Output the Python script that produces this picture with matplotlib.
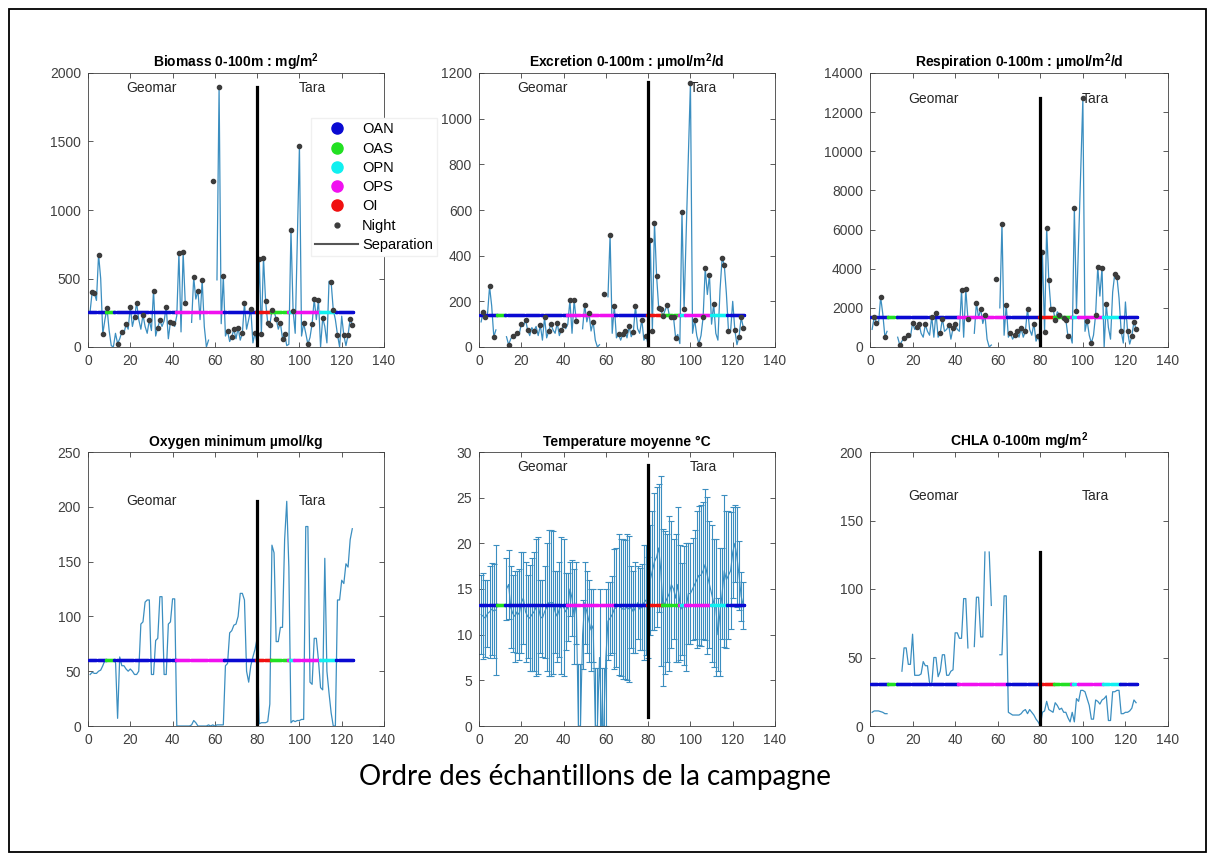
import numpy as np
import matplotlib
matplotlib.use("Agg")
import matplotlib.pyplot as plt
from matplotlib.lines import Line2D
from matplotlib.patches import Rectangle

nan = np.nan
samples = np.arange(1, 126)

biomass = [260, 405, 395, 340, 675, 500, 95, 200, 285, 120,
           10, 0, 100, 25, 60, 110, 100, 165, 130, 295,
           150, 220, 322, 200, 130, 235, 150, 100, 198, 120,
           412, 80, 142, 195, 150, 190, 292, 60, 185, 175,
           150, 230, 685, 110, 690, 318, nan, nan, 180, 508,
           350, 412, 200, 490, 150, 0, 50, nan, 1215, nan,
           490, 1900, 170, 515, 80, 115, 40, 75, 130, 60,
           140, 50, 100, 318, 130, 200, 278, 30, 105, 20,
           645, 95, 652, 335, 175, 160, 268, 260, 205, 130,
           175, 60, 95, 10, 20, 852, 265, 100, 780, 1470,
           80, 172, 100, 20, 70, 170, 350, 200, 342, 0,
           212, 150, 30, 480, 472, 272, 200, 90, 0, 225,
           85, 10, 88, 205, 160]

excretion = [110, 155, 130, 140, 265, 180, 45, 75, nan, nan,
             nan, nan, 45, 10, 35, 50, 40, 60, 55, 100,
             90, 120, 75, 50, 85, 70, 90, 50, 95, 30,
             130, 40, 70, 100, 75, 60, 105, 50, 75, 95,
             80, 100, 205, 60, 205, 115, nan, nan, 80, 185,
             110, 150, 70, 110, 30, 0, 10, nan, 230, nan,
             220, 490, 60, 180, 40, 55, 30, 55, 70, 40,
             90, 45, 65, 180, 80, 60, 120, 30, 50, 10,
             470, 70, 545, 310, 170, 165, 135, 160, 185, 140,
             130, 130, 40, 55, 15, 590, 165, 500, 830, 1155,
             60, 120, 50, 15, 50, 130, 345, 230, 315, 100,
             190, 60, 30, 250, 390, 360, 235, 70, 70, 200,
             75, 10, 45, 130, 85]

respiration = [900, 1550, 1250, 1200, 2550, 1700, 520, 800, nan, nan,
               nan, nan, 500, 100, 300, 450, 400, 600, 500, 1250,
               900, 1000, 1200, 700, 500, 1150, 800, 600, 1550, 500,
               1750, 500, 700, 1450, 800, 900, 1100, 400, 950, 1150,
               900, 800, 2900, 500, 2950, 1450, nan, nan, 700, 2250,
               1500, 1950, 1200, 1650, 400, 0, 100, nan, 3500, nan,
               2000, 6300, 600, 2150, 500, 700, 400, 600, 800, 500,
               950, 500, 800, 1950, 900, 600, 1200, 300, 550, 100,
               4850, 750, 6100, 3400, 1950, 1950, 1400, 1800, 1650, 1600,
               1500, 1400, 550, 650, 200, 7100, 1850, 5400, 9000, 12700,
               800, 1350, 600, 200, 600, 1650, 4100, 2600, 4050, 0,
               2200, 1000, 400, 2800, 3750, 3600, 2500, 800, 200, 2300,
               800, 150, 550, 1300, 900]

oxygen = [47, 49, 48, 48, 50, 51, 55, 60, 60, 60,
          60, 60, 60, 7, 63, 55, 55, 52, 50, 52,
          50, 47, 47, 50, 93, 95, 113, 115, 115, 47,
          47, 78, 80, 118, 118, 47, 47, 93, 95, 116,
          116, 0, 0, 0, 0, 0, 0, 0, 1, 5,
          3, 0, 0, 0, 0, 0, 1, 0, 1, 0,
          1, 1, 1, 1, 55, 57, 85, 87, 92, 93,
          100, 121, 121, 115, 50, 40, 55, 63, 70, 80,
          2, 3, 3, 3, 4, 20, 165, 158, 77, 77,
          90, 90, 170, 205, 145, 3, 5, 4, 5, 5,
          6, 6, 182, 182, 40, 38, 80, 80, 60, 35,
          33, 153, 50, 30, 12, 0, 0, 115, 115, 133,
          130, 148, 145, 170, 180]

temp_mean = [12.2, 12.0, 11.8, 12.3, 12.5, 12.8, 12.6, 12.7, nan, nan,
             nan, nan, 15.0, 15.5, 13.0, 12.3, 12.0, 12.5, 12.2, 13.5,
             14.0, 12.5, 12.0, 11.8, 12.2, 12.5, 13.0, 13.2, 12.0, 11.8,
             12.5, 13.0, 13.5, 13.5, 13.5, 12.5, 12.0, 12.8, 13.2, 13.0,
             12.5, 13.0, 15.0, 14.0, 12.0, 13.5, 0.0, 0.0, 10.0, 13.5,
             12.5, 11.5, 10.5, 11.0, 0.0, 0.0, 7.5, 0.0, 0.0, 7.5,
             11.5, 11.8, 12.2, 12.8, 13.0, 13.3, 13.0, 12.8, 12.8, 13.0,
             12.8, 13.0, 12.5, 13.0, 13.5, 12.8, 13.0, 13.5, 13.8, 13.0,
             16.0, 17.0, 18.0, 18.5, 19.5, 17.0, 13.0, 13.5, 14.0, 14.5,
             15.5, 15.0, 14.0, 15.5, 13.5, 12.8, 13.2, 13.0, 14.5, 14.5,
             15.0, 15.5, 16.0, 16.5, 16.5, 17.0, 17.7, 16.5, 15.5, 14.5,
             13.5, 13.0, 10.0, 12.5, 14.5, 17.0, 16.0, 16.5, 17.0, 19.0,
             20.0, 18.5, 16.5, 14.2, 13.2]

temp_err = [4.3, 4.7, 4.2, 3.7, 5.0, 5.0, 5.1, 7.1, nan, nan,
            nan, nan, 3.4, 3.8, 4.5, 4.2, 5.0, 4.5, 5.0, 5.5,
            5.0, 5.5, 4.5, 5.8, 6.2, 6.5, 7.5, 7.5, 4.0, 4.2,
            5.0, 7.0, 8.0, 8.0, 7.8, 4.5, 5.0, 5.2, 7.5, 7.5,
            4.2, 3.7, 3.0, 4.2, 5.2, 4.5, 6.8, 6.8, 3.8, 4.5,
            4.5, 4.5, 4.5, 4.0, 6.3, 6.3, 7.5, 6.3, 6.3, 7.5,
            4.3, 4.0, 4.2, 6.6, 6.5, 7.7, 7.5, 7.7, 7.6, 8.0,
            8.0, 4.5, 4.5, 5.0, 4.0, 4.5, 4.7, 6.3, 6.0, 5.5,
            6.0, 6.5, 7.5, 7.7, 7.0, 10.4, 8.6, 7.8, 7.0, 8.5,
            7.0, 5.5, 7.0, 8.5, 6.3, 5.0, 6.5, 7.0, 5.5, 5.5,
            5.6, 6.0, 7.5, 7.6, 7.7, 7.5, 8.3, 8.6, 7.0, 7.5,
            7.0, 7.5, 4.0, 7.0, 5.0, 8.3, 7.5, 7.0, 6.4, 5.0,
            4.2, 5.5, 3.8, 2.7, 2.6]

chla = [10, 11, 11, 11, 10.5, 10, 9, 9, nan, nan,
        nan, nan, nan, nan, 40, 57, 57, 45, 45, 67,
        37, 37, 37, 38, 47, 44, 44, 31, 30, 50,
        50, 36, 40, 52, 52, 37, 37, 40, 41, 68,
        68, 64, 64, 93, 93, 57, nan, nan, 58, 94,
        94, 65, 65, 127, nan, 127, 88, nan, nan, nan,
        52, 52, 95, 95, 10, 9, 8, 8, 8, 8,
        9, 11, 12, 9, 12, 10, 8, 5, 3, 0,
        10, 11, 18, 12, 11, 10, 17, 15, 12, 13,
        10, 10, 6, 3, 10, 3, 20, 18, 26, 26,
        25, 20, 15, 5, 5, 19, 18, 16, 19, 20,
        22, 4, 4, 25, 25, 26, 26, 9, 9, 10,
        10, 11, 13, 19, 17]

# samples taken at night
night = [2, 3, 5, 7, 9, 14, 16, 18, 20, 22, 23, 26, 29, 31, 33, 34, 37, 39, 40,
         43, 45, 46, 50, 52, 54, 59, 62, 64, 66, 68, 69, 71, 73, 74, 77, 79,
         81, 82, 83, 84, 85, 86, 87, 89, 91, 92, 93, 96, 97, 100, 102, 104,
         106, 107, 109, 111, 115, 116, 118, 121, 123, 124, 125]

# ocean region of each run of samples: (region, first, last)
region_runs = [("OAN", 1, 8), ("OAS", 9, 12), ("OAN", 13, 28), ("OAN", 30, 41),
               ("OPS", 42, 64), ("OAN", 65, 79), ("OI", 80, 86), ("OAS", 87, 94),
               ("OPS", 95, 95), ("OPN", 96, 97), ("OPS", 98, 109),
               ("OPN", 110, 117), ("OAN", 118, 125)]
region_names = ["OAN", "OAS", "OPN", "OPS", "OI"]

titles = [r"Biomass 0-100m : mg/m$^\mathbf{2}$",
          r"Excretion 0-100m : µmol/m$^\mathbf{2}$/d",
          r"Respiration 0-100m : µmol/m$^\mathbf{2}$/d",
          "Oxygen minimum µmol/kg",
          "Temperature moyenne °C",
          r"CHLA 0-100m mg/m$^\mathbf{2}$"]
ref_level = [255, 139, 1520, 60, 13.3, 31]
y_max = [2000, 1200, 14000, 250, 30, 200]
y_step = [500, 200, 2000, 50, 5, 50]
sep_low = [0, 0, 0, 0, 1, 0]
sep_high = [1900, 1160, 12700, 205, 28.6, 127]
label_y = [1890, 1135, 12650, 205, 28.4, 168]
separation_at = 80
geomar_x, tara_x = 30, 106

region_colors = {"OAN": "#0a0ad2", "OAS": "#22e022", "OPN": "#10f0f0",
                 "OPS": "#f010f0", "OI": "#f01010"}
line_color = "#3b8ec0"
night_color = "#3c3c3c"

plt.rcParams.update({
    "font.family": "Liberation Sans",
    "mathtext.fontset": "custom",
    "mathtext.rm": "Liberation Sans",
    "mathtext.bf": "Liberation Sans:bold",
    "xtick.direction": "in",
    "ytick.direction": "in",
    "xtick.top": True,
    "ytick.right": True,
})

fig = plt.figure(figsize=(12.12, 8.59), dpi=100)
fig.add_artist(Rectangle((9 / 1212, 7 / 859), 1197 / 1212, 843 / 859,
                         transform=fig.transFigure, fill=False,
                         edgecolor="black", linewidth=1.3))

lefts = [88, 479, 870]
widths = [296, 296, 298]
tops = [73, 452]
axes = []
for row in range(2):
    for col in range(3):
        ax = fig.add_axes([lefts[col] / 1212, (859 - tops[row] - 274) / 859,
                           widths[col] / 1212, 274 / 859])
        axes.append(ax)

series = [biomass, excretion, respiration, oxygen, temp_mean, chla]

for k, ax in enumerate(axes):
    vals = np.array(series[k], dtype=float)
    if k == 4:
        ax.errorbar(samples, vals, yerr=np.array(temp_err), color=line_color,
                    lw=0.8, elinewidth=0.8, capsize=2.3, capthick=0.8, zorder=2)
    else:
        ax.plot(samples, vals, color=line_color, lw=0.9, zorder=2)

    for name, first, last in region_runs:
        xs = np.arange(first - 0.5, last + 0.51, 0.5)
        ax.plot(xs, np.full(len(xs), ref_level[k]), color=region_colors[name],
                lw=2.0, marker=".", ms=3, zorder=3)

    if k < 3:
        idx = np.array(night) - 1
        ax.plot(samples[idx], vals[idx], "o", color=night_color, ms=3.0,
                mec=night_color, zorder=4)

    ax.plot([separation_at, separation_at], [sep_low[k], sep_high[k]],
            color="black", lw=2.3, zorder=5)
    ax.text(geomar_x, label_y[k], "Geomar", ha="center", va="center",
            fontsize=10, color="#262626")
    ax.text(tara_x, label_y[k], "Tara", ha="center", va="center",
            fontsize=10, color="#262626")

    ax.set_xlim(0, 140)
    ax.set_ylim(0, y_max[k])
    ax.set_xticks(np.arange(0, 141, 20))
    ax.set_yticks(np.arange(0, y_max[k] + 0.001, y_step[k]))
    ax.tick_params(labelsize=10, colors="#404040", length=3.5, width=0.6, pad=5)
    for sp in ax.spines.values():
        sp.set_color("#404040")
        sp.set_linewidth(0.6)
    ax.set_title(titles[k], fontsize=10, fontweight="bold", pad=4)

handles = [Line2D([], [], ls="none", marker="o", ms=8, color=region_colors[n])
           for n in region_names]
handles.append(Line2D([], [], ls="none", marker="o", ms=3.5, color=night_color))
handles.append(Line2D([], [], color="#555555", lw=1.5))
leg = axes[0].legend(handles, region_names + ["Night", "Separation"],
                     loc="upper left", bbox_to_anchor=(311 / 1212, 1 - 118 / 859),
                     bbox_transform=fig.transFigure, frameon=True, fancybox=False,
                     edgecolor="#f0f0f0", framealpha=1, fontsize=10.5,
                     handlelength=2.9, handletextpad=0.3, labelspacing=0.36,
                     borderpad=0.3, borderaxespad=0)
leg.set_zorder(10)

fig.text(595 / 1212, 1 - 777 / 859, "Ordre des échantillons de la campagne",
         ha="center", va="center", fontsize=20, family="Lato")

fig.savefig("out.png", dpi=100)
